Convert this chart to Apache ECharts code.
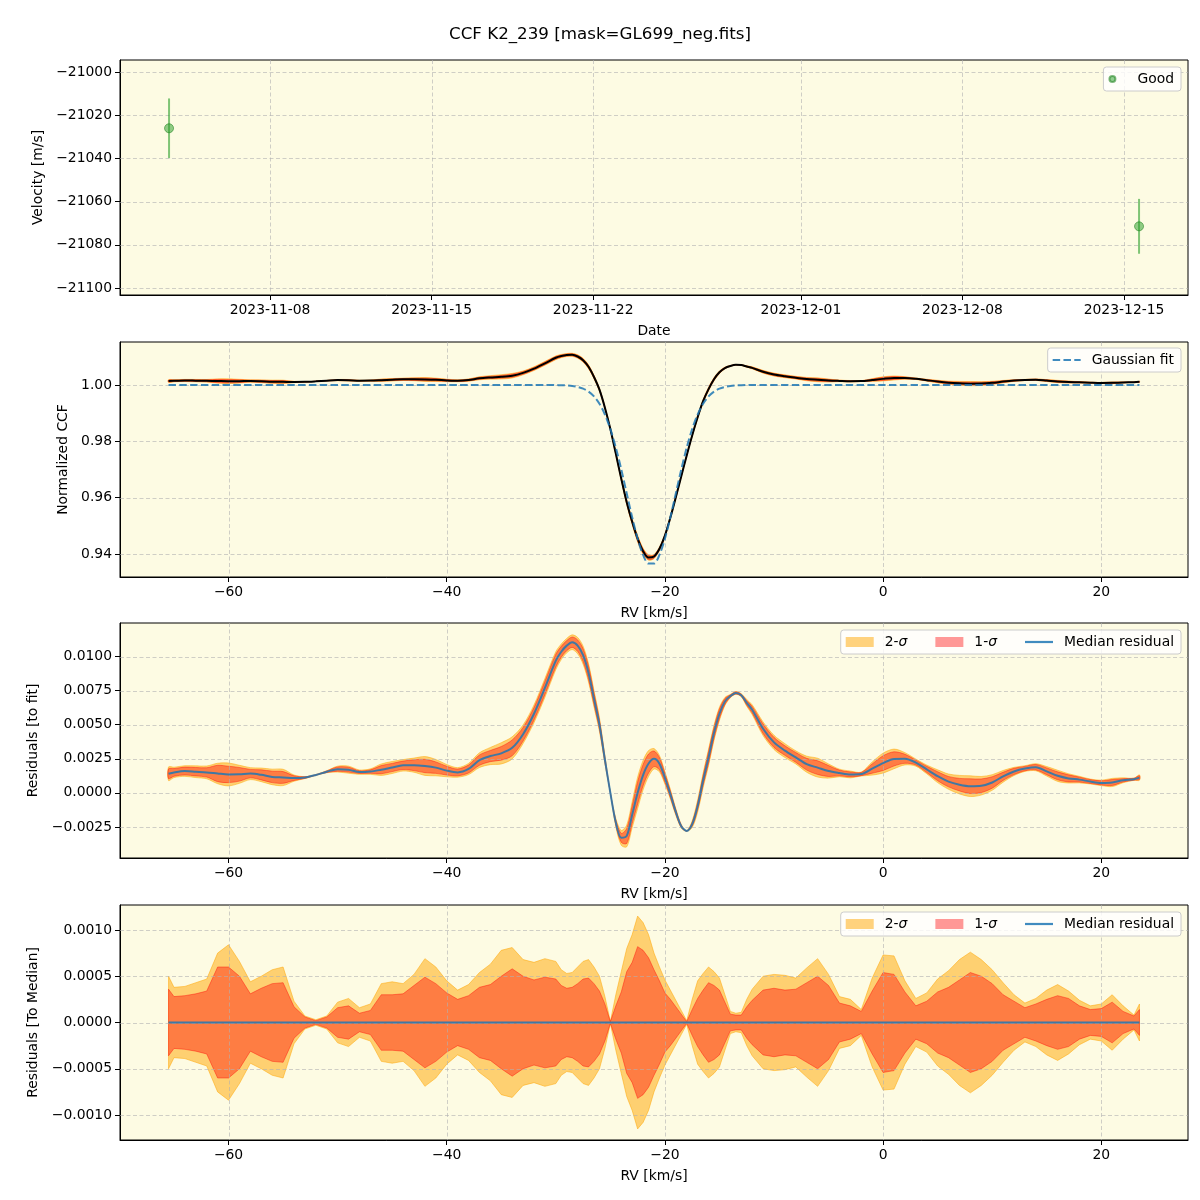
<!DOCTYPE html>
<html>
<head>
<meta charset="utf-8">
<script src="https://cdn.jsdelivr.net/npm/echarts@6/dist/echarts.min.js"></script>
<style>html,body{margin:0;padding:0;background:#fff}#c{width:1200px;height:1200px}</style>
</head>
<body>
<div id="c"></div>
<script>
// ---------------- DATA ----------------
const obsDates = ['2023-11-03 15:00', '2023-12-15 15:36'];
const obsVel = [-21026.0, -21071.4];
const obsErr = [13.8, 12.7];

const dateTicks = ['2023-11-08', '2023-11-15', '2023-11-22', '2023-12-01', '2023-12-08', '2023-12-15'];
const velTicks = [-21100, -21080, -21060, -21040, -21020, -21000];
const rvTicks = [-60, -40, -20, 0, 20];
const ccfTicks = [0.94, 0.96, 0.98, 1.00];
const resTicks = [-0.0025, 0, 0.0025, 0.005, 0.0075, 0.01];
const medTicks = [-0.001, -0.0005, 0, 0.0005, 0.001];

const rv = [-65.5,-65,-64,-63,-62,-61,-60,-59,-58,-57,-56,-55,-54,-53,-52,-51,-50,-49,-48,-47,-46,-45,-44,-43,-42,-41,-40,-39,-38,-37,-36,-35,-34,-33,-32,-31,
  -30,-29.5,-29,-28.5,-28,-27.5,-27,-26.5,-26,-25.5,-25,-24.5,-24,-23.5,-23,-22.5,-22,-21.5,-21,-20.5,-20,-19.5,-19,-18.5,-18,-17.5,-17,-16.5,-16,-15.5,-15,-14.5,-14,-13.5,-13,-12.5,-12,
  -11,-10,-9,-8,-7,-6,-5,-4,-3,-2,-1,0,1,2,3,4,5,6,7,8,9,10,11,12,13,14,15,16,17,18,19,20,21,22,23,23.5];

const ccfMedian = [1.00140,1.00150,1.00160,1.00155,1.00150,1.00142,1.00135,1.00136,1.00141,1.00132,1.00117,1.00113,1.00108,1.00112,1.00131,1.00155,1.00174,1.00170,1.00152,1.00156,1.00170,1.00186,1.00202,1.00203,1.00197,1.00185,1.00163,1.00150,1.00175,1.00240,1.00270,1.00290,1.00330,1.00430,1.00580,1.00770,
  1.00967,1.01028,1.01064,1.01072,1.01013,1.00882,1.00647,1.00284,0.99834,0.99195,0.98437,0.97563,0.96674,0.95837,0.95143,0.94543,0.94100,0.93875,0.93910,0.94184,0.94653,0.95293,0.96013,0.96759,0.97501,0.98207,0.98855,0.99424,0.99854,1.00207,1.00452,1.00603,1.00677,1.00717,1.00709,1.00657,1.00610,
  1.00470,1.00370,1.00310,1.00260,1.00210,1.00185,1.00160,1.00146,1.00135,1.00138,1.00178,1.00218,1.00249,1.00250,1.00222,1.00172,1.00122,1.00082,1.00060,1.00049,1.00052,1.00076,1.00121,1.00157,1.00178,1.00188,1.00158,1.00125,1.00106,1.00097,1.00083,1.00073,1.00076,1.00092,1.00100,1.00112];

const gaussFit = [1,1,1,1,1,1,1,1,1,1,1,1,1,1,1,1,1,1,1,1,1,1,1,1,1,1,1,1,1,1,1,1,1,1,1,1,
  0.99997,0.99993,0.99984,0.99967,0.99933,0.99872,0.99767,0.99594,0.99334,0.98952,0.98437,0.97781,0.97004,0.96153,0.95303,0.94543,0.93970,0.93660,0.93660,0.93970,0.94543,0.95303,0.96153,0.97004,0.97781,0.98437,0.98952,0.99334,0.99594,0.99767,0.99872,0.99933,0.99967,0.99984,0.99993,0.99997,1,
  1,1,1,1,1,1,1,1,1,1,1,1,1,1,1,1,1,1,1,1,1,1,1,1,1,1,1,1,1,1,1,1,1,1,1,1];

const residMedian = [0.00140,0.00150,0.00160,0.00155,0.00150,0.00142,0.00135,0.00136,0.00141,0.00132,0.00117,0.00113,0.00108,0.00112,0.00131,0.00155,0.00174,0.00170,0.00152,0.00156,0.00170,0.00186,0.00202,0.00203,0.00197,0.00185,0.00163,0.00150,0.00175,0.00240,0.00270,0.00290,0.00330,0.00430,0.00580,0.00770,
  0.00970,0.01035,0.01080,0.01105,0.01080,0.01010,0.00880,0.00690,0.00500,0.00243,0.00000,-0.00218,-0.00330,-0.00316,-0.00160,0.00000,0.00130,0.00215,0.00250,0.00214,0.00110,-0.00010,-0.00140,-0.00245,-0.00280,-0.00230,-0.00097,0.00090,0.00260,0.00440,0.00580,0.00670,0.00710,0.00733,0.00716,0.00660,0.00610,
  0.00470,0.00370,0.00310,0.00260,0.00210,0.00185,0.00160,0.00146,0.00135,0.00138,0.00178,0.00218,0.00249,0.00250,0.00222,0.00172,0.00122,0.00082,0.00060,0.00049,0.00052,0.00076,0.00121,0.00157,0.00178,0.00188,0.00158,0.00125,0.00106,0.00097,0.00083,0.00073,0.00076,0.00092,0.00100,0.00112];

const sigma1 = [0.00036,0.00028,0.00029,0.00031,0.00034,0.00060,0.00060,0.00050,0.00031,0.00037,0.00042,0.00043,0.00017,0.00006,0.00002,0.00006,0.00016,0.00018,0.00010,0.00013,0.00030,0.00030,0.00031,0.00040,0.00049,0.00042,0.00032,0.00025,0.00029,0.00038,0.00041,0.00050,0.00058,0.00050,0.00046,0.00049,
  0.00047,0.00040,0.00037,0.00038,0.00042,0.00047,0.00048,0.00042,0.00034,0.00020,0.00001,0.00018,0.00033,0.00055,0.00065,0.00082,0.00078,0.00070,0.00057,0.00045,0.00032,0.00025,0.00017,0.00009,0.00001,0.00014,0.00026,0.00035,0.00043,0.00040,0.00035,0.00022,0.00009,0.00008,0.00008,0.00017,0.00024,
  0.00035,0.00037,0.00035,0.00036,0.00043,0.00050,0.00040,0.00021,0.00018,0.00012,0.00034,0.00054,0.00052,0.00033,0.00018,0.00023,0.00033,0.00038,0.00046,0.00054,0.00050,0.00042,0.00030,0.00023,0.00016,0.00020,0.00025,0.00029,0.00026,0.00018,0.00014,0.00015,0.00022,0.00012,0.00007,0.00014];

const sigma2 = [0.00050,0.00038,0.00039,0.00043,0.00047,0.00075,0.00084,0.00066,0.00044,0.00050,0.00057,0.00060,0.00023,0.00007,0.00003,0.00007,0.00022,0.00026,0.00016,0.00020,0.00042,0.00044,0.00042,0.00052,0.00069,0.00060,0.00045,0.00035,0.00041,0.00054,0.00063,0.00078,0.00081,0.00068,0.00065,0.00069,
  0.00066,0.00057,0.00053,0.00054,0.00060,0.00066,0.00068,0.00060,0.00050,0.00028,0.00001,0.00030,0.00055,0.00080,0.00095,0.00115,0.00108,0.00095,0.00075,0.00060,0.00046,0.00035,0.00024,0.00013,0.00002,0.00025,0.00045,0.00053,0.00060,0.00055,0.00048,0.00030,0.00012,0.00010,0.00011,0.00025,0.00036,
  0.00050,0.00052,0.00051,0.00048,0.00059,0.00069,0.00052,0.00028,0.00025,0.00014,0.00048,0.00073,0.00072,0.00045,0.00026,0.00032,0.00047,0.00056,0.00068,0.00076,0.00068,0.00057,0.00043,0.00030,0.00021,0.00026,0.00035,0.00041,0.00034,0.00024,0.00018,0.00020,0.00030,0.00018,0.00008,0.00020];

// ---------------- HELPERS ----------------
const FONT = 'DejaVu Sans';
const FS = 13.9;
const BG = '#fdfbe3';
const C2 = 'rgba(255,165,0,0.5)';
const C1 = 'rgba(255,0,0,0.4)';
const BLUE = 'rgba(31,119,180,0.85)';
const GREEN = 'rgba(44,160,44,0.65)';

function toTime(s) {
  const parts = s.split(' ');
  const [y, m, d] = parts[0].split('-').map(Number);
  const [h, mi] = (parts[1] || '00:00').split(':').map(Number);
  return new Date(y, m - 1, d, h, mi).getTime();
}
const pad = n => (n < 10 ? '0' : '') + n;
const minus = s => s.replace('-', '\u2212');
const zeroLine = rv.map(() => 0);
const dateTickTimes = dateTicks.map(toTime);

const grids = [
  { left: 120, top: 60, width: 1068, height: 235 },
  { left: 120, top: 342, width: 1068, height: 235 },
  { left: 120, top: 623, width: 1068, height: 235 },
  { left: 120, top: 905, width: 1068, height: 235 }
].map(g => Object.assign(g, { show: true, backgroundColor: BG, borderColor: '#000', borderWidth: 1 }));

const labelStyle = { color: '#000', fontSize: FS, fontFamily: FONT };
function axisBase(gi, ticks, fmt, name, nameGap, extra) {
  return Object.assign({
    gridIndex: gi,
    axisLine: { show: true, onZero: false, lineStyle: { color: '#000', width: 1 } },
    axisTick: { show: true, customValues: ticks, length: 5, lineStyle: { color: '#000' } },
    axisLabel: Object.assign({ customValues: ticks, formatter: fmt, margin: 8 }, labelStyle),
    splitLine: { show: false },
    name: name, nameLocation: 'middle', nameGap: nameGap,
    nameTextStyle: { color: '#000', fontSize: FS, fontFamily: FONT }
  }, extra);
}

function band(gi, base, sig, fill, name, smooth) {
  const lo = base.map((b, i) => b - sig[i]);
  const hi = base.map((b, i) => b + sig[i]);
  const s = {
    type: 'custom', xAxisIndex: gi, yAxisIndex: gi, silent: true,
    itemStyle: { color: fill, borderColor: fill },
    data: [[rv[0], base[0]]], encode: { x: 0, y: 1 },
    renderItem: (p, api) => {
      const top = [], bot = [];
      for (let i = 0; i < rv.length; i++) { top.push(api.coord([rv[i], hi[i]])); bot.push(api.coord([rv[i], lo[i]])); }
      const pts = top.concat(bot.reverse());
      return { type: 'polygon', shape: { points: pts, smooth: smooth || 0 }, style: { fill: fill, stroke: fill, lineWidth: 1 } };
    }
  };
  if (name) s.name = name;
  return s;
}

function gridLines(gi, xs, ys) {
  return {
    type: 'custom', xAxisIndex: gi, yAxisIndex: gi, silent: true,
    data: [[xs[0], ys[0]]], encode: { x: 0, y: 1 },
    renderItem: (p, api) => {
      const cs = p.coordSys; const ch = [];
      const st = { stroke: 'rgba(176,176,176,0.6)', lineWidth: 1, lineDash: [4, 2.5] };
      xs.forEach(v => { const x = Math.round(api.coord([v, ys[0]])[0]) + 0.5; ch.push({ type: 'line', shape: { x1: x, y1: cs.y, x2: x, y2: cs.y + cs.height }, style: st }); });
      ys.forEach(v => { const y = Math.round(api.coord([xs[0], v])[1]) + 0.5; ch.push({ type: 'line', shape: { x1: cs.x, y1: y, x2: cs.x + cs.width, y2: y }, style: st }); });
      return { type: 'group', children: ch };
    }
  };
}

function line(gi, arr, name, style) {
  return {
    type: 'line', name: name, xAxisIndex: gi, yAxisIndex: gi,
    data: rv.map((x, i) => [x, arr[i]]),
    symbol: 'none', showSymbol: false, smooth: 0.3,
    lineStyle: style, itemStyle: { color: style.color }, color: style.color
  };
}

const ICON_LINE = 'path://M0,0h28v2.2h-28z';
const ICON_DASH = 'path://M0,0h7.5v2.2h-7.5z M10.8,0h7.5v2.2h-7.5z M21.6,0h6.4v2.2h-6.4z';

const legendBase = {
  right: 19, orient: 'horizontal', selectedMode: false,
  backgroundColor: 'rgba(255,255,255,0.8)', borderColor: '#cccccc', borderWidth: 1, borderRadius: 3,
  padding: [5, 7, 5, 5], itemGap: 28, itemWidth: 28, itemHeight: 10,
  textStyle: { color: '#000', fontSize: FS, fontFamily: FONT, padding: [0, 0, 0, 6],
    rich: { i: { fontStyle: 'italic', fontSize: FS, fontFamily: FONT, color: '#000' } } },
  formatter: n => n.replace('σ', '{i|σ}')
};
const sigLegendData = [{ name: '2-σ', icon: 'rect' }, { name: '1-σ', icon: 'rect' }, { name: 'Median residual', icon: ICON_LINE }];

const dateFmt = v => { const d = new Date(v); return d.getFullYear() + '-' + pad(d.getMonth() + 1) + '-' + pad(d.getDate()); };

const option = {
  animation: false,
  backgroundColor: '#fff',
  title: { text: 'CCF K2_239 [mask=GL699_neg.fits]', left: 'center', top: 21,
    textStyle: { fontSize: 16.7, fontWeight: 'normal', color: '#000', fontFamily: FONT } },
  grid: grids,
  legend: [
    Object.assign({}, legendBase, { top: 67, itemHeight: 6, data: [{ name: 'Good', icon: 'circle' }] }),
    Object.assign({}, legendBase, { top: 348, data: [{ name: 'Gaussian fit', icon: ICON_DASH }] }),
    Object.assign({}, legendBase, { top: 630, data: sigLegendData }),
    Object.assign({}, legendBase, { top: 912, data: sigLegendData })
  ],
  xAxis: [
    axisBase(0, dateTickTimes, dateFmt, 'Date', 29,
      { type: 'value', min: toTime('2023-11-01 12:00'), max: toTime('2023-12-17 18:30') }),
    axisBase(1, rvTicks, v => minus(String(v)), 'RV [km/s]', 29, { type: 'value', min: -69.95, max: 27.95 }),
    axisBase(2, rvTicks, v => minus(String(v)), 'RV [km/s]', 29, { type: 'value', min: -69.95, max: 27.95 }),
    axisBase(3, rvTicks, v => minus(String(v)), 'RV [km/s]', 29, { type: 'value', min: -69.95, max: 27.95 })
  ],
  yAxis: [
    axisBase(0, velTicks, v => minus(String(Math.round(v))), 'Velocity [m/s]', 71, { type: 'value', min: -21103.2, max: -20994.4 }),
    axisBase(1, ccfTicks, v => v.toFixed(2), 'Normalized CCF', 46, { type: 'value', min: 0.93184, max: 1.01527 }),
    axisBase(2, resTicks, v => minus(v.toFixed(4)), 'Residuals [to fit]', 75, { type: 'value', min: -0.00478, max: 0.01246 }),
    axisBase(3, medTicks, v => minus(v.toFixed(4)), 'Residuals [To Median]', 75, { type: 'value', min: -0.00127, max: 0.00127 })
  ],
  series: [
    // Panel 1
    gridLines(0, dateTickTimes, velTicks),
    {
      type: 'custom', xAxisIndex: 0, yAxisIndex: 0, silent: true,
      data: obsDates.map((d, i) => [toTime(d), obsVel[i], obsErr[i]]),
      encode: { x: 0, y: 1 },
      renderItem: (p, api) => {
        const t = api.value(0), v = api.value(1), e = api.value(2);
        const a = api.coord([t, v + e]), b = api.coord([t, v - e]);
        return { type: 'line', shape: { x1: a[0], y1: a[1], x2: b[0], y2: b[1] }, style: { stroke: 'rgba(44,160,44,0.6)', lineWidth: 2 } };
      }
    },
    {
      type: 'scatter', name: 'Good', xAxisIndex: 0, yAxisIndex: 0,
      data: obsDates.map((d, i) => [toTime(d), obsVel[i]]),
      symbolSize: 9, itemStyle: { color: GREEN, borderColor: 'rgba(30,130,30,0.7)', borderWidth: 1 }, color: GREEN
    },
    // Panel 2
    band(1, ccfMedian, sigma2, C2, null, 0.3),
    band(1, ccfMedian, sigma1, C1, null, 0.3),
    gridLines(1, rvTicks, ccfTicks),
    line(1, ccfMedian, 'CCF', { color: '#000', width: 2 }),
    line(1, gaussFit, 'Gaussian fit', { color: BLUE, width: 2, type: [7.5, 3.3] }),
    // Panel 3
    band(2, residMedian, sigma2, C2, '2-σ', 0.3),
    band(2, residMedian, sigma1, C1, '1-σ', 0.3),
    gridLines(2, rvTicks, resTicks),
    line(2, residMedian, 'Median residual', { color: BLUE, width: 2 }),
    // Panel 4
    band(3, zeroLine, sigma2, C2, '2-σ'),
    band(3, zeroLine, sigma1, C1, '1-σ'),
    gridLines(3, rvTicks, medTicks),
    line(3, zeroLine, 'Median residual', { color: BLUE, width: 2 })
  ]
};

const chart = echarts.init(document.getElementById('c'), null, { renderer: 'canvas' });
chart.setOption(option);
</script>
</body>
</html>
